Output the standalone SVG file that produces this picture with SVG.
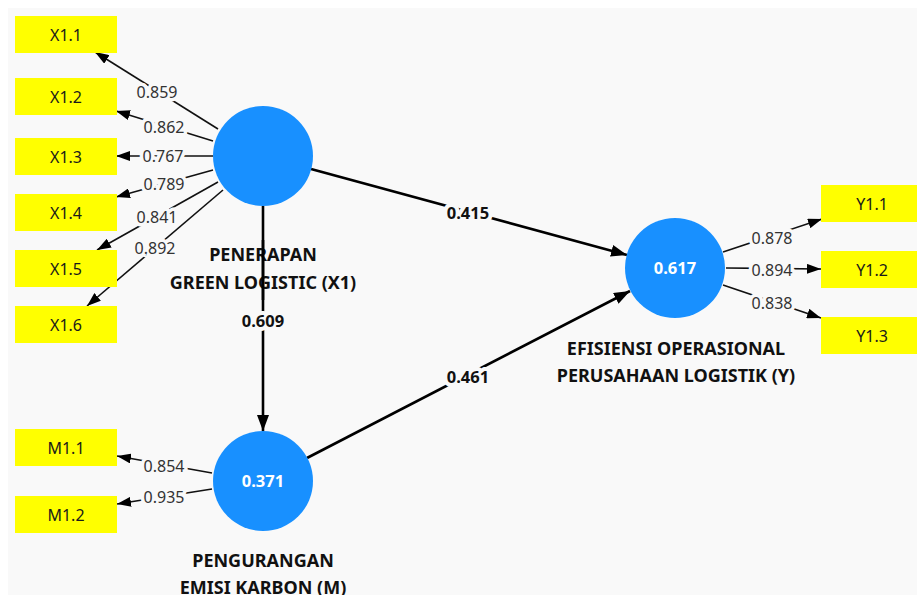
<svg xmlns="http://www.w3.org/2000/svg" width="917" height="595" viewBox="0 0 917 595">
<style>
.ind rect{fill:#ffff00}
.ind text{font-family:"Noto Sans","Open Sans",sans-serif;font-size:16px;fill:#1a1a1a;text-anchor:middle}
.lv circle{fill:#1890ff}
.lv .r2{font-family:"Noto Sans","Open Sans",sans-serif;font-size:16.5px;font-weight:bold;fill:#fff;text-anchor:middle}
.lv .nm{font-family:"Noto Sans","Open Sans",sans-serif;font-size:18px;font-weight:bold;fill:#111;text-anchor:middle}
.ld{stroke:#111;stroke-width:1.6;fill:none}
.st{stroke:#000;stroke-width:2.6;fill:none}
.ll{font-family:"Noto Sans","Open Sans",sans-serif;font-size:16px;fill:#333;text-anchor:middle;paint-order:stroke;stroke:#f9f9f9;stroke-width:7px;stroke-linejoin:round}
.sl{font-family:"Noto Sans","Open Sans",sans-serif;font-size:16.5px;font-weight:bold;fill:#111;text-anchor:middle;paint-order:stroke;stroke:#f9f9f9;stroke-width:8px;stroke-linejoin:round}
</style>
<defs>
<marker id="ah" viewBox="0 0 14 10" refX="14" refY="5" markerWidth="14" markerHeight="10" markerUnits="userSpaceOnUse" orient="auto"><path d="M0,0 L14,5 L0,10 z" fill="#000"/></marker>
<marker id="ahs" viewBox="0 0 16 12" refX="16" refY="6" markerWidth="16" markerHeight="12" markerUnits="userSpaceOnUse" orient="auto"><path d="M0,0 L16,6 L0,12 z" fill="#000"/></marker>
</defs>
<rect x="0" y="0" width="917" height="595" fill="#ffffff"/>
<rect x="8" y="8" width="909" height="587" fill="#f9f9f9"/>

<g id="connectors">
<line class="ld" x1="218" y1="129" x2="95" y2="52" marker-end="url(#ah)"/>
<line class="ld" x1="213" y1="141" x2="116" y2="111" marker-end="url(#ah)"/>
<line class="ld" x1="213" y1="156" x2="116" y2="156" marker-end="url(#ah)"/>
<line class="ld" x1="213" y1="170" x2="116" y2="197" marker-end="url(#ah)"/>
<line class="ld" x1="218" y1="182" x2="97" y2="250" marker-end="url(#ah)"/>
<line class="ld" x1="223" y1="190" x2="87" y2="306" marker-end="url(#ah)"/>
<line class="ld" x1="212" y1="473" x2="117" y2="456" marker-end="url(#ah)"/>
<line class="ld" x1="212" y1="489" x2="117" y2="504" marker-end="url(#ah)"/>
<line class="ld" x1="723" y1="252" x2="822" y2="219" marker-end="url(#ah)"/>
<line class="ld" x1="726" y1="268" x2="821" y2="269" marker-end="url(#ah)"/>
<line class="ld" x1="723" y1="285" x2="821" y2="318" marker-end="url(#ah)"/>
<line class="st" x1="311" y1="169" x2="627" y2="255" marker-end="url(#ahs)"/>
<line class="st" x1="307" y1="458" x2="630" y2="291" marker-end="url(#ahs)"/>
<line class="st" x1="263" y1="206" x2="263" y2="431" marker-end="url(#ahs)"/>
<text class="ll" x="157" y="98">0.859</text>
<text class="ll" x="164" y="133">0.862</text>
<text class="ll" x="163" y="162">0.767</text>
<text class="ll" x="164" y="190">0.789</text>
<text class="ll" x="157" y="223">0.841</text>
<text class="ll" x="155" y="254">0.892</text>
<text class="ll" x="164" y="472">0.854</text>
<text class="ll" x="164" y="503">0.935</text>
<text class="ll" x="772" y="244">0.878</text>
<text class="ll" x="772" y="276">0.894</text>
<text class="ll" x="772" y="309">0.838</text>
<text class="sl" x="468" y="219">0.415</text>
<text class="sl" x="468" y="383">0.461</text>
<text class="sl" x="263" y="327">0.609</text>
</g>

<g id="X1.1" class="ind"><rect x="15" y="16" width="102" height="37"/><text x="66" y="41">X1.1</text></g>
<g id="X1.2" class="ind"><rect x="15" y="78" width="102" height="37"/><text x="66" y="103">X1.2</text></g>
<g id="X1.3" class="ind"><rect x="15" y="138" width="102" height="37"/><text x="66" y="163">X1.3</text></g>
<g id="X1.4" class="ind"><rect x="15" y="194" width="102" height="37"/><text x="66" y="219">X1.4</text></g>
<g id="X1.5" class="ind"><rect x="15" y="250" width="102" height="37"/><text x="66" y="275">X1.5</text></g>
<g id="X1.6" class="ind"><rect x="15" y="306" width="102" height="37"/><text x="66" y="331">X1.6</text></g>
<g id="M1.1" class="ind"><rect x="15" y="429" width="102" height="37"/><text x="66" y="454">M1.1</text></g>
<g id="M1.2" class="ind"><rect x="15" y="496" width="102" height="37"/><text x="66" y="521">M1.2</text></g>
<g id="Y1.1" class="ind"><rect x="821" y="185" width="96" height="37"/><text x="872" y="210">Y1.1</text></g>
<g id="Y1.2" class="ind"><rect x="821" y="251" width="96" height="37"/><text x="872" y="276">Y1.2</text></g>
<g id="Y1.3" class="ind"><rect x="821" y="317" width="96" height="37"/><text x="872" y="342">Y1.3</text></g>

<g id="X1" class="lv">
<circle cx="263" cy="156" r="50"/>
<text class="nm" x="263" y="261">PENERAPAN</text>
<text class="nm" x="263" y="289">GREEN LOGISTIC (X1)</text>
</g>
<line x1="263" y1="240" x2="263" y2="300" stroke="#000" stroke-width="2.6"/>
<g id="M" class="lv">
<circle cx="263" cy="481" r="50"/>
<text class="r2" x="263" y="487">0.371</text>
<text class="nm" x="263" y="567">PENGURANGAN</text>
<text class="nm" x="263" y="594">EMISI KARBON (M)</text>
</g>
<g id="Y" class="lv">
<circle cx="675" cy="268" r="50"/>
<text class="r2" x="675" y="274">0.617</text>
<text class="nm" x="676" y="355">EFISIENSI OPERASIONAL</text>
<text class="nm" x="676" y="382">PERUSAHAAN LOGISTIK (Y)</text>
</g>
</svg>
